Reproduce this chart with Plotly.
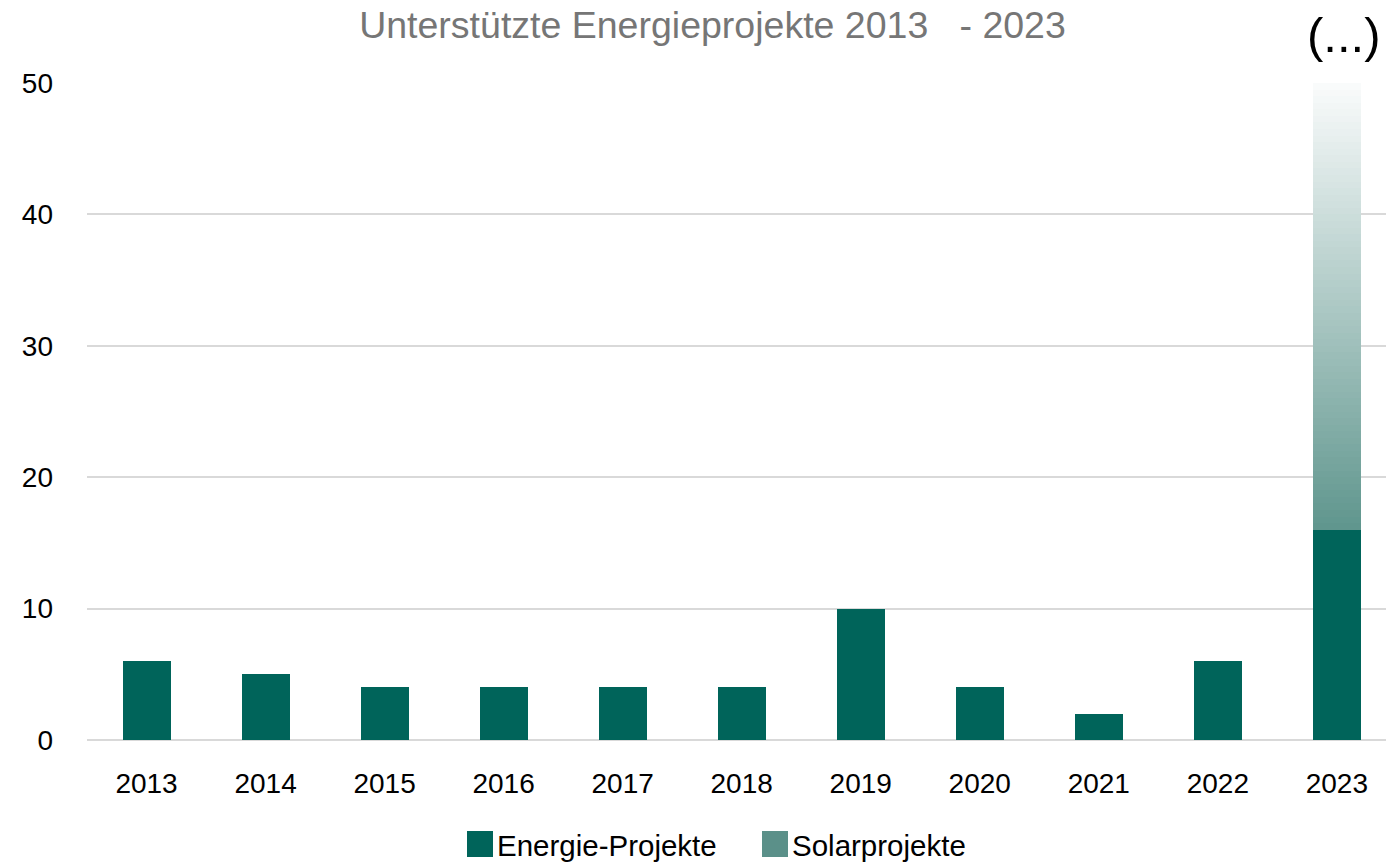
import plotly.graph_objects as go

# ---- data ----
years = ["2013", "2014", "2015", "2016", "2017", "2018", "2019", "2020", "2021", "2022", "2023"]
energie = [6, 5, 4, 4, 4, 4, 10, 4, 2, 6, 16]
solar_2023 = 34          # Solarprojekte (stacked on 2023, shown fading out)
y_ticks = [0, 10, 20, 30, 40, 50]
title_text = "Unterstützte Energieprojekte 2013\u00a0\u00a0\u00a0- 2023"

# ---- style ----
FONT = "Liberation Sans, Arial, sans-serif"
DARK = "#00645A"
SOLAR = "#5B9089"
GRAD_BOTTOM = (96, 150, 142)
GRAD_TOP = (249, 251, 251)
OFF = 8                      # page body margin of the html page
W, H = 1394 - OFF, 862 - OFF
L, R, T, B = 79, 0, 75, 122

fig = go.Figure()
fig.add_trace(go.Bar(x=years, y=energie, name="Energie-Projekte",
                     marker=dict(color=DARK, line=dict(width=0)), showlegend=False))

# Solar segment drawn as many thin stacked slices to render the fade-out gradient
n_slices = 68
step = solar_2023 / n_slices
for i in range(n_slices):
    f = i / (n_slices - 1)
    c = tuple(round(GRAD_BOTTOM[k] + (GRAD_TOP[k] - GRAD_BOTTOM[k]) * f) for k in range(3))
    fig.add_trace(go.Bar(x=[years[-1]], y=[step], name="Solarprojekte",
                         marker=dict(color="rgb(%d,%d,%d)" % c, line=dict(width=0)),
                         showlegend=False, hoverinfo="skip"))

pw = W - L - R
ph = H - T - B
def px_x(p):           # p: pixel in the reference picture
    return (p - OFF - L) / pw
def px_y(p):
    return (H - B - (p - OFF)) / ph

shapes = []
annotations = []
# custom legend (large square swatches)
legend_items = [("Energie-Projekte", DARK, 467), ("Solarprojekte", SOLAR, 762)]
for name, col, x0 in legend_items:
    shapes.append(dict(type="rect", xref="paper", yref="paper",
                       x0=px_x(x0), x1=px_x(x0 + 26), y0=px_y(857), y1=px_y(831),
                       fillcolor=col, line=dict(width=0)))
    annotations.append(dict(text=name, xref="paper", yref="paper",
                            x=px_x(x0 + 28), y=px_y(845), xanchor="left", yanchor="middle",
                            showarrow=False, font=dict(family=FONT, size=29.5, color="#000000")))

# "(...)" marker above the 2023 bar
annotations.append(dict(text="(...)", xref="paper", yref="paper", x=px_x(1343), y=px_y(35),
                        xanchor="center", yanchor="middle", showarrow=False,
                        font=dict(family=FONT, size=49, color="#000000")))

fig.update_layout(
    width=W, height=H,
    barmode="stack", bargap=0.597,
    plot_bgcolor="white", paper_bgcolor="white",
    margin=dict(l=L, r=R, t=T, b=B, autoexpand=False),
    showlegend=False,
    title=dict(text=title_text, xref="container", yref="container",
               x=(712.5 - OFF) / W, y=1 - 17 / H, xanchor="center", yanchor="middle",
               font=dict(family=FONT, size=37.5, color="#767676")),
    shapes=shapes, annotations=annotations,
    font=dict(family=FONT, size=28, color="#000000"),
)
fig.update_xaxes(type="category", range=[-0.5, 10.48], showgrid=False, showline=False,
                 ticks="", ticklabelstandoff=24, automargin=False,
                 tickfont=dict(family=FONT, size=28, color="#000000"))
fig.update_yaxes(range=[0, 50], tickvals=y_ticks, showgrid=True, gridcolor="#D9D9D9",
                 gridwidth=1.5, zeroline=True, zerolinecolor="#D9D9D9", zerolinewidth=1.5,
                 showline=False, ticks="", ticklabelstandoff=33, automargin=False,
                 tickfont=dict(family=FONT, size=28, color="#000000"))

fig.write_html("out.html")
